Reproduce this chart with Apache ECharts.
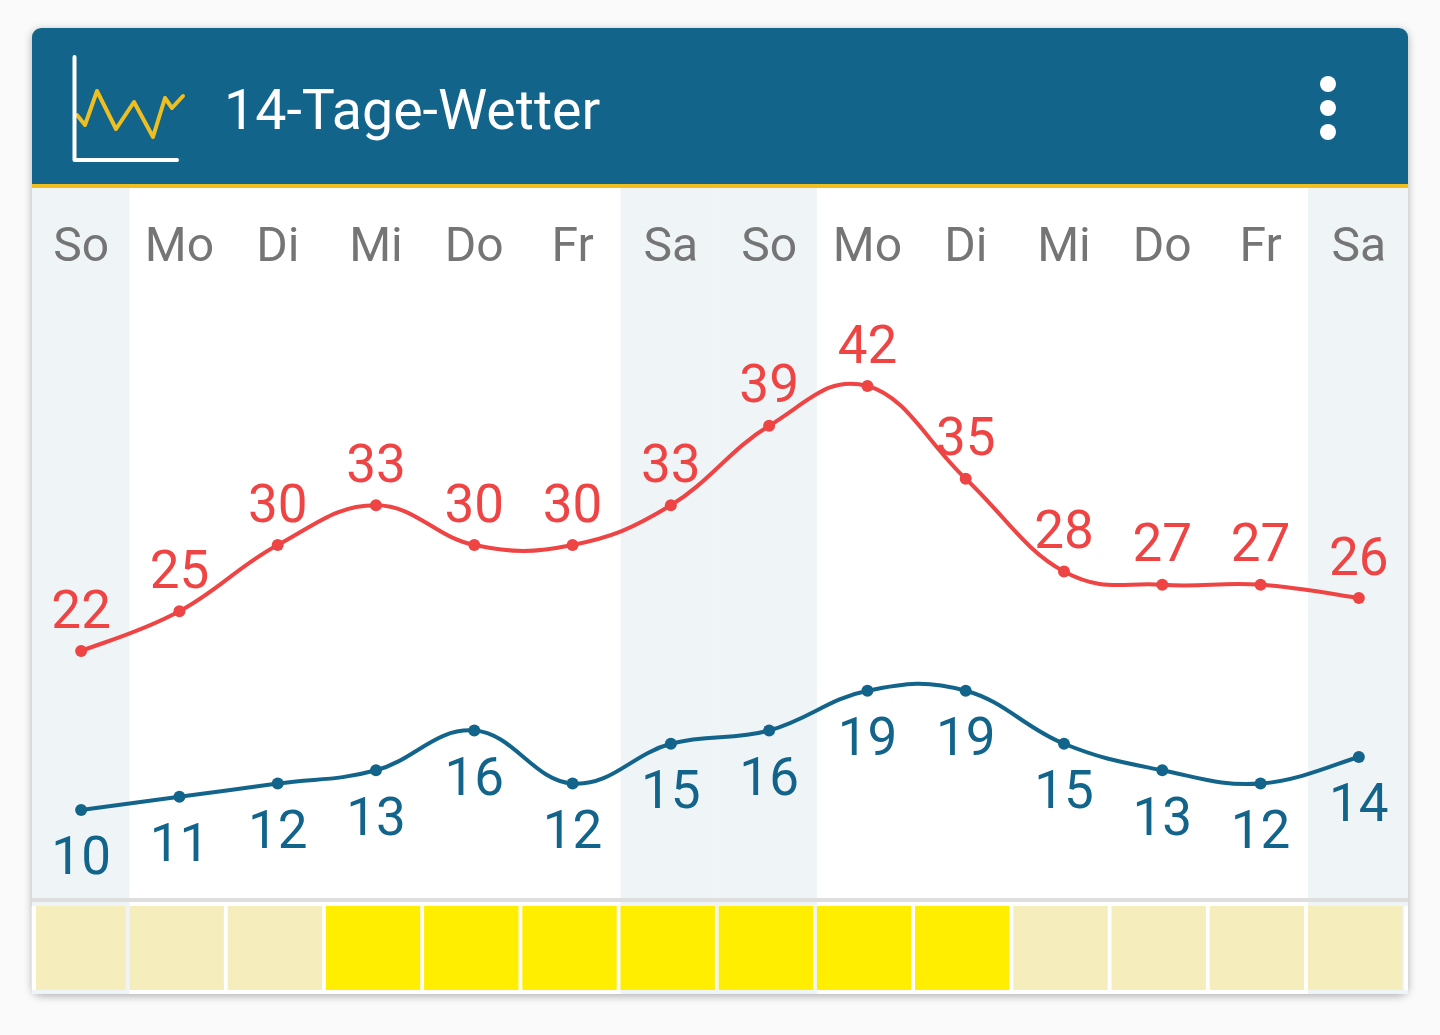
<!DOCTYPE html>
<html>
<head>
<meta charset="utf-8">
<title>14-Tage-Wetter</title>
<style>
html,body{margin:0;padding:0;background:#fafafa;}
#main{width:1440px;height:1035px;}
</style>
<script src="https://cdn.jsdelivr.net/npm/echarts@6/dist/echarts.min.js"></script>
</head>
<body>
<div id="main"></div>
<script>
var days = ['So','Mo','Di','Mi','Do','Fr','Sa','So','Mo','Di','Mi','Do','Fr','Sa'];
var maxTemp = [22,25,30,33,30,30,33,39,42,35,28,27,27,26];
var minTemp = [10,11,12,13,16,12,15,16,19,19,15,13,12,14];
var weekend = [1,0,0,0,0,0,1,1,0,0,0,0,0,1];
var stripLevel = [0,0,0,1,1,1,1,1,1,1,0,0,0,0];

var RED = '#ee4444', BLUE = '#12648a', YELLOW = '#efbf1f';
var myChart = echarts.init(document.getElementById('main'));

// geschwungene Linie wie im Original (cubic bezier, intensity 0.2)
function curveItem(values, color) {
    return function (params, api) {
        var i = params.dataIndex;
        if (i >= values.length - 1) return null;
        var prev = api.coord([Math.max(i - 1, 0), values[Math.max(i - 1, 0)]]);
        var cur = api.coord([i, values[i]]);
        var next = api.coord([i + 1, values[i + 1]]);
        var after = api.coord([Math.min(i + 2, values.length - 1), values[Math.min(i + 2, values.length - 1)]]);
        return {
            type: 'bezierCurve',
            shape: {
                x1: cur[0], y1: cur[1], x2: next[0], y2: next[1],
                cpx1: cur[0] + (next[0] - prev[0]) * 0.2,
                cpy1: cur[1] + (next[1] - prev[1]) * 0.2,
                cpx2: next[0] - (after[0] - cur[0]) * 0.2,
                cpy2: next[1] - (after[1] - cur[1]) * 0.2
            },
            style: {stroke: color, fill: null, lineWidth: 4}
        };
    };
}
function pairs(values) {
    return values.map(function (v, i) { return [i, v]; });
}
function pointSeries(values, color, pos, dist) {
    return {
        type: 'line', data: values, z: 6,
        symbol: 'circle', symbolSize: 12,
        lineStyle: {width: 0},
        itemStyle: {color: color},
        label: {show: true, position: pos, distance: dist, color: color, fontSize: 53, fontFamily: 'Roboto'}
    };
}

var option = {
    animation: false,
    backgroundColor: '#fafafa',
    textStyle: {fontFamily: 'Roboto'},
    title: {
        text: '14-Tage-Wetter', left: 219, top: 82.5,
        textStyle: {color: '#fff', fontSize: 55.5, fontWeight: 'normal', fontFamily: 'Roboto'}
    },
    grid: [
        {left: 32, width: 1376, top: 188.5, height: 806},
        {left: 29.4, width: 1374.8, top: 906, height: 84, z: 12},
        {left: 31.3, width: 1374.8, top: 188, height: 806}
    ],
    xAxis: [
        {
            type: 'category', data: days, position: 'top', gridIndex: 0,
            axisLine: {show: false}, axisTick: {show: false},
            axisLabel: {inside: true, interval: 0, margin: 36, color: '#757575', fontSize: 48, fontFamily: 'Roboto'},
            z: 5
        },
        {type: 'category', data: days, gridIndex: 1, show: false},
        {type: 'category', data: days, gridIndex: 2, show: false}
    ],
    yAxis: [
        {type: 'value', gridIndex: 0, min: -3.92, max: 56.9, show: false},
        {type: 'value', gridIndex: 1, min: 0, max: 1, show: false},
        {type: 'value', gridIndex: 2, min: 0, max: 1, show: false}
    ],
    graphic: [
        {type: 'rect', z: -5, shape: {x: 32, y: 28, width: 1376, height: 966, r: 9},
            style: {fill: '#fff', shadowBlur: 8, shadowOffsetY: 2, shadowColor: 'rgba(0,0,0,0.3)'}},
        {type: 'rect', z: -4, shape: {x: 32, y: 28, width: 1376, height: 156, r: [9, 9, 0, 0]}, style: {fill: BLUE}},
        {type: 'rect', z: -4, shape: {x: 32, y: 184, width: 1376, height: 4}, style: {fill: YELLOW}},
        {type: 'polyline', z: 1, shape: {points: [[77,115],[85,125],[97,91],[116,129],[134,102],[153,137],[165,98],[172,108],[183,96]]},
            style: {stroke: YELLOW, fill: null, lineWidth: 4, lineJoin: 'round', lineCap: 'round'}},
        {type: 'polyline', z: 2, shape: {points: [[74.5,57],[74.5,160],[177,160]]},
            style: {stroke: '#fff', fill: null, lineWidth: 4, lineJoin: 'round', lineCap: 'round'}},
        {type: 'circle', z: 1, shape: {cx: 1328, cy: 84, r: 8}, style: {fill: '#fff'}},
        {type: 'circle', z: 1, shape: {cx: 1328, cy: 108, r: 8}, style: {fill: '#fff'}},
        {type: 'circle', z: 1, shape: {cx: 1328, cy: 132, r: 8}, style: {fill: '#fff'}},
        {type: 'rect', z: 10, shape: {x: 32, y: 898, width: 1376, height: 4}, style: {fill: '#dedede'}},
        {type: 'rect', z: 10, shape: {x: 32, y: 906, width: 4, height: 84}, style: {fill: '#fff'}},
        {type: 'rect', z: 10, shape: {x: 1404, y: 906, width: 4, height: 84}, style: {fill: '#fff'}}
    ],
    series: [
        {
            // Wochenende hinterlegt
            type: 'custom', xAxisIndex: 2, yAxisIndex: 2, z: 1,
            data: weekend,
            renderItem: function (params, api) {
                var i = params.dataIndex;
                if (!weekend[i]) return null;
                var w = api.size([1, 0])[0];
                var x0 = api.coord([i, 0])[0] - w / 2;
                var x1 = x0 + w;
                if (i === 0) x0 = 32;
                if (i === days.length - 1) x1 = 1408;
                return {
                    type: 'rect',
                    shape: {x: x0, y: params.coordSys.y, width: x1 - x0, height: params.coordSys.height},
                    style: {fill: '#eff4f7'}
                };
            }
        },
        {type: 'custom', z: 4, data: pairs(maxTemp), encode: {x: 0, y: 1}, renderItem: curveItem(maxTemp, RED)},
        {type: 'custom', z: 4, data: pairs(minTemp), encode: {x: 0, y: 1}, renderItem: curveItem(minTemp, BLUE)},
        pointSeries(maxTemp, RED, 'top', 4),
        pointSeries(minTemp, BLUE, 'bottom', 18.5),
        {
            type: 'bar', xAxisIndex: 1, yAxisIndex: 1, z: 8, barWidth: 94.4,
            data: stripLevel.map(function () { return 1; }),
            itemStyle: {
                color: function (p) { return stripLevel[p.dataIndex] ? '#ffee00' : '#f5eebc'; }
            }
        }
    ]
};
myChart.setOption(option);
</script>
</body>
</html>
